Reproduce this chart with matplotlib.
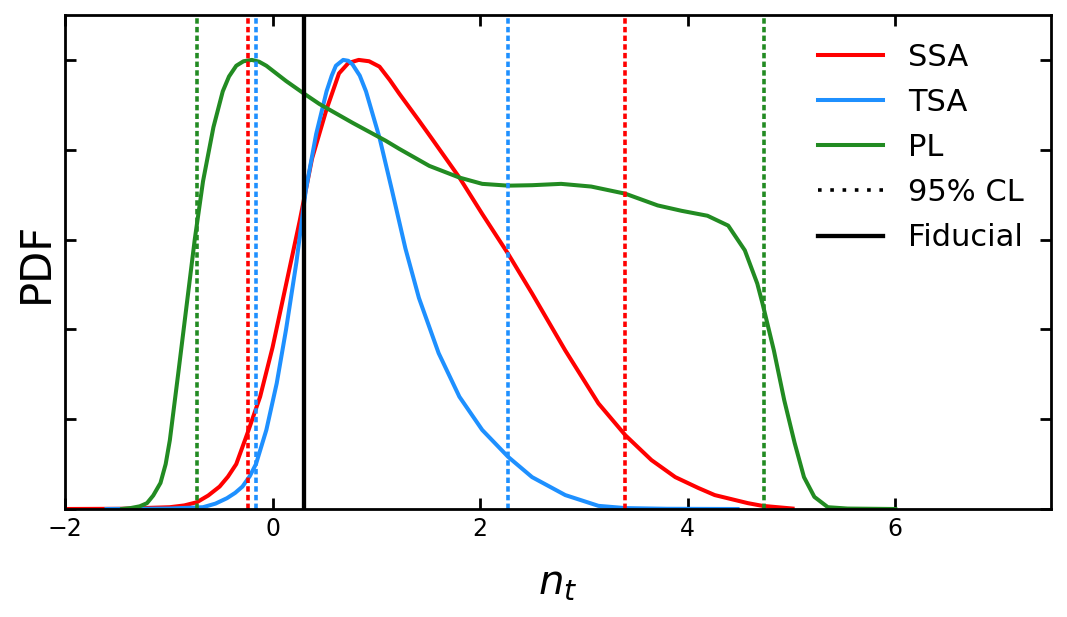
import matplotlib
matplotlib.use("Agg")
import matplotlib.pyplot as plt
from matplotlib.lines import Line2D

# ---- data ----
ssa_x = [-2.0, -1.47, -0.99, -0.85, -0.73, -0.62, -0.51, -0.43, -0.35, -0.24, -0.12, 0.0,
         0.13, 0.26, 0.38, 0.52, 0.64, 0.73, 0.83, 0.93, 1.03, 1.13, 1.22, 1.41, 1.54, 1.80,
         2.02, 2.27, 2.50, 2.82, 3.14, 3.40, 3.65, 3.88, 4.10, 4.26, 4.58, 4.72, 5.01]
ssa_y = [0.0, 0.0005, 0.004, 0.008, 0.015, 0.03, 0.05, 0.072, 0.10, 0.17, 0.25, 0.36,
         0.50, 0.64, 0.78, 0.89, 0.97, 0.993, 1.0, 0.997, 0.985, 0.955, 0.925, 0.865, 0.823,
         0.738, 0.657, 0.568, 0.48, 0.353, 0.235, 0.164, 0.109, 0.071, 0.047, 0.031, 0.013,
         0.007, 0.001]

tsa_x = [-1.6, -1.0, -0.67, -0.55, -0.44, -0.36, -0.29, -0.22, -0.16, -0.06, 0.04, 0.13,
         0.23, 0.32, 0.42, 0.52, 0.57, 0.61, 0.68, 0.73, 0.77, 0.84, 0.90, 1.03, 1.15, 1.28,
         1.41, 1.60, 1.80, 2.02, 2.27, 2.50, 2.82, 3.14, 3.40, 3.8, 4.48]
tsa_y = [0.0, 0.001, 0.004, 0.012, 0.024, 0.036, 0.05, 0.073, 0.10, 0.176, 0.28, 0.40,
         0.55, 0.71, 0.835, 0.93, 0.965, 0.987, 1.0, 0.998, 0.99, 0.965, 0.93, 0.827, 0.71,
         0.58, 0.47, 0.347, 0.25, 0.176, 0.116, 0.071, 0.031, 0.007, 0.002, 0.0005, 0.0]

pl_x = [-1.45, -1.37, -1.28, -1.21, -1.15, -1.08, -1.03, -0.99, -0.91, -0.83, -0.75, -0.67,
        -0.57, -0.48, -0.42, -0.35, -0.28, -0.20, -0.13, -0.06, 0.13, 0.29, 0.45, 0.77, 1.09,
        1.22, 1.51, 1.80, 2.02, 2.27, 2.50, 2.78, 3.07, 3.40, 3.71, 3.94, 4.19, 4.39, 4.55,
        4.67, 4.72, 4.83, 4.93, 5.03, 5.12, 5.22, 5.35, 5.54, 6.0]
pl_y = [0.0, 0.002, 0.006, 0.013, 0.03, 0.058, 0.10, 0.153, 0.30, 0.45, 0.60, 0.73, 0.85,
        0.93, 0.963, 0.987, 0.997, 1.0, 0.996, 0.987, 0.953, 0.927, 0.902, 0.86, 0.82, 0.802,
        0.764, 0.738, 0.724, 0.72, 0.721, 0.724, 0.718, 0.702, 0.676, 0.664, 0.653, 0.631,
        0.576, 0.502, 0.458, 0.353, 0.242, 0.147, 0.071, 0.027, 0.004, 0.001, 0.0]

ssa_cl = [-0.24, 3.40]
tsa_cl = [-0.16, 2.27]
pl_cl = [-0.73, 4.73]
fiducial = 0.30

labels = ["SSA", "TSA", "PL", "95% CL", "Fiducial"]
colors = {"SSA": "red", "TSA": "dodgerblue", "PL": "forestgreen"}

# ---- figure ----
fig = plt.figure(figsize=(10.67, 6.17), dpi=100)
ax = fig.add_axes([65 / 1067, 108 / 617, (1051 - 65) / 1067, (509 - 15) / 617])

lw = 2.9
vlw = 2.6
vdash = (1.5, 0.9)
ax.plot(ssa_x, ssa_y, color=colors["SSA"], lw=lw, solid_joinstyle="round")
ax.plot(tsa_x, tsa_y, color=colors["TSA"], lw=lw, solid_joinstyle="round")
ax.plot(pl_x, pl_y, color=colors["PL"], lw=lw, solid_joinstyle="round")

for v in ssa_cl:
    ax.axvline(v, color=colors["SSA"], ls=(0, vdash), lw=vlw)
for v in tsa_cl:
    ax.axvline(v, color=colors["TSA"], ls=(0, vdash), lw=vlw)
for v in pl_cl:
    ax.axvline(v, color=colors["PL"], ls=(0, vdash), lw=vlw)
ax.axvline(fiducial, color="black", ls="-", lw=3.1)

ax.set_xlim(-2, 7.5)
ax.set_ylim(0, 1.1)
ax.set_xticks([-2, 0, 2, 4, 6])
ax.set_yticks([0, 0.2, 0.4, 0.6, 0.8, 1.0])
ax.set_yticklabels([])
ax.tick_params(direction="in", top=True, right=True, length=8, width=2, labelsize=17, pad=6)
for s in ax.spines.values():
    s.set_linewidth(2)

ax.set_xlabel(r"$n_t$", fontsize=29, labelpad=16)
ax.set_ylabel("PDF", fontsize=30, labelpad=0)

handles = [
    Line2D([], [], color=colors["SSA"], lw=lw),
    Line2D([], [], color=colors["TSA"], lw=lw),
    Line2D([], [], color=colors["PL"], lw=lw),
    Line2D([], [], color="black", ls=(0, (1.0, 2.4)), lw=vlw),
    Line2D([], [], color="black", ls="-", lw=3.1),
]
ax.legend(handles, labels, loc="upper right", frameon=False, fontsize=22,
          handlelength=2.15, handletextpad=0.8, labelspacing=0.53)

fig.savefig("out.png", dpi=100)
